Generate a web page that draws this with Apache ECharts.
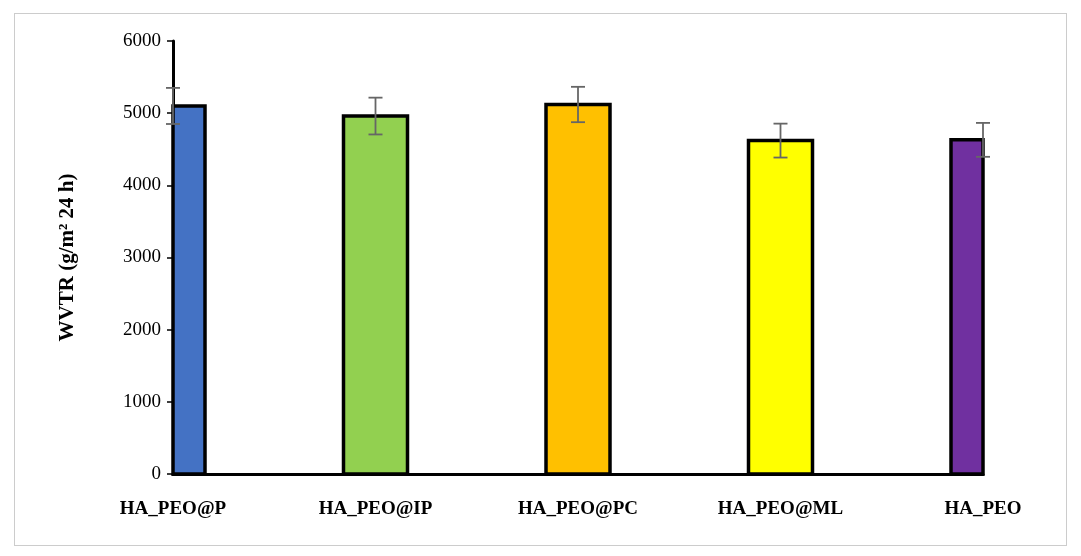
<!DOCTYPE html><html><head><meta charset="utf-8">
<script src="https://cdn.jsdelivr.net/npm/echarts@6/dist/echarts.min.js"></script>
<style>html,body{margin:0;background:#fff}#frame{position:absolute;left:14px;top:13px;width:1051px;height:531px;border:1px solid #ccc}#c{width:1081px;height:556px}</style>
</head><body><div id="frame"></div><div id="c"></div><script>
const categories=['HA_PEO@P','HA_PEO@IP','HA_PEO@PC','HA_PEO@ML','HA_PEO'];
const values=[5100,4960,5120,4620,4630];
const errors=[250,255,245,235,235];
const colors=['#4472C4','#92D050','#FFC000','#FFFF00','#7030A0'];
const yTicks=[0,1000,2000,3000,4000,5000,6000];
const font='Liberation Serif';
const chart=echarts.init(document.getElementById('c'));
chart.setOption({
 animation:false,
 grid:{left:173,right:98,top:41,bottom:82},
 xAxis:{type:'category',data:categories,boundaryGap:false,
  axisLine:{lineStyle:{color:'#000',width:3}},
  axisTick:{inside:true,length:8,lineStyle:{color:'#000',width:1.5}},
  axisLabel:{fontFamily:font,fontWeight:'bold',fontSize:19,color:'#000',margin:26}},
 yAxis:{type:'value',min:0,max:6000,interval:1000,
  name:'WVTR (g/m\u00b2 24 h)',nameLocation:'middle',nameGap:95,
  nameTextStyle:{fontFamily:font,fontWeight:'bold',fontSize:21,color:'#000'},
  axisLine:{show:true,lineStyle:{color:'#000',width:3}},
  axisTick:{show:true,length:6,lineStyle:{color:'#000',width:1.5}},
  splitLine:{show:false},
  axisLabel:{fontFamily:font,fontSize:19,color:'#000',margin:12,formatter:v=>yTicks.includes(v)?String(v):''}},
 series:[{type:'custom',z:2,
   data:values.map((v,i)=>[i,v]),
   renderItem:(p,api)=>{const top=api.coord([api.value(0),api.value(1)]),bot=api.coord([api.value(0),0]);
    const w=64,i=p.dataIndex;
    const r=echarts.graphic.clipRectByRect({x:top[0]-w/2,y:top[1],width:w,height:bot[1]-top[1]},
      {x:p.coordSys.x,y:p.coordSys.y,width:p.coordSys.width,height:p.coordSys.height});
    return {type:'rect',shape:r,style:{fill:colors[i],stroke:'#000',lineWidth:3.5}};}},
  {type:'custom',z:10,
   data:values.map((v,i)=>[i,v-errors[i],v+errors[i]]),
   renderItem:(p,api)=>{const lo=api.coord([api.value(0),api.value(1)]),hi=api.coord([api.value(0),api.value(2)]);const w=7;
    const st={stroke:'#666',lineWidth:1.8};
    return {type:'group',children:[
     {type:'line',shape:{x1:hi[0],y1:hi[1],x2:lo[0],y2:lo[1]},style:st},
     {type:'line',shape:{x1:hi[0]-w,y1:hi[1],x2:hi[0]+w,y2:hi[1]},style:st},
     {type:'line',shape:{x1:lo[0]-w,y1:lo[1],x2:lo[0]+w,y2:lo[1]},style:st}]};}}]
});
</script></body></html>
